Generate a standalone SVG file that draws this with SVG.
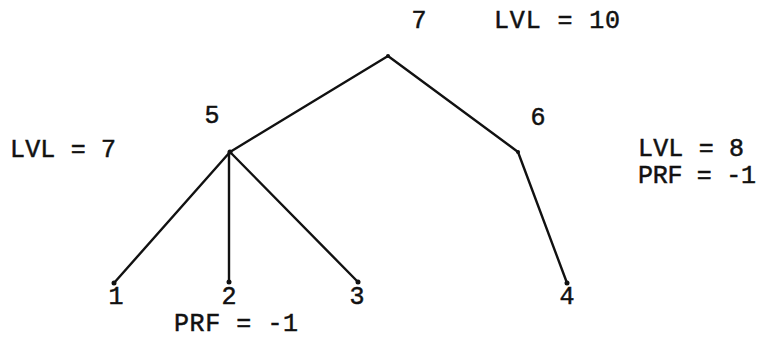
<svg xmlns="http://www.w3.org/2000/svg" width="768" height="354" viewBox="0 0 768 354">
<style>
.t{font-family:"Liberation Mono","Courier New",monospace;font-size:25px;fill:#111;stroke:#111;stroke-width:0.5}
.c{text-anchor:middle}
.e{stroke:#111;stroke-width:2.4;fill:none;stroke-linecap:round}
.d{fill:#111}
</style>
<rect width="768" height="354" fill="#fff"/>
<g id="connectors">
<line class="e" x1="388" y1="56" x2="230" y2="152"/>
<line class="e" x1="388" y1="56" x2="518" y2="152"/>
<line class="e" x1="230" y1="152" x2="114" y2="283"/>
<line class="e" x1="229" y1="152" x2="229" y2="282"/>
<line class="e" x1="230" y1="152" x2="358" y2="282"/>
<line class="e" x1="518" y1="152" x2="567" y2="283"/>
</g>
<g id="n7"><circle class="d" cx="388" cy="56" r="2"/><text class="t c" x="419" y="28">7</text></g>
<g id="n5"><circle class="d" cx="230" cy="152" r="2.5"/><text class="t c" x="212" y="123">5</text></g>
<g id="n6"><circle class="d" cx="518" cy="152" r="2"/><text class="t c" x="538" y="125">6</text></g>
<g id="n1"><circle class="d" cx="114" cy="283" r="2.5"/><text class="t c" x="116" y="304">1</text></g>
<g id="n2"><circle class="d" cx="229" cy="282" r="2.5"/><text class="t c" x="229" y="304">2</text></g>
<g id="n3"><circle class="d" cx="358" cy="282" r="2.5"/><text class="t c" x="357" y="304">3</text></g>
<g id="n4"><circle class="d" cx="567" cy="283" r="2.5"/><text class="t c" x="567" y="304">4</text></g>
<g id="labels">
<text class="t" x="494" y="28" textLength="126">LVL = 10</text>
<text class="t" x="10" y="157" textLength="106">LVL = 7</text>
<text class="t" x="638" y="156" textLength="106">LVL = 8</text>
<text class="t" x="638" y="183" textLength="118">PRF = -1</text>
<text class="t" x="174" y="331" textLength="124">PRF = -1</text>
</g>
</svg>
